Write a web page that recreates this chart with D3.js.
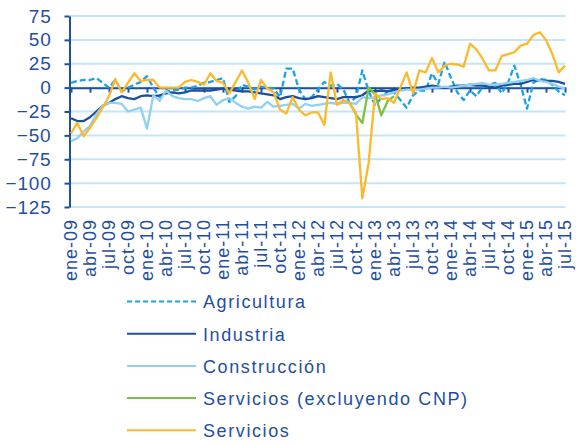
<!DOCTYPE html>
<meta charset="utf-8">
<style>
    * {
        margin: 0px;
    }
    svg {
        display: block;
        background: #fff;
    }
    text {
        font-family: "Liberation Sans", Arial, sans-serif;
        fill: #1f4f9f;
    }
    .grid line {
        stroke: #c2e5f7;
        stroke-width: 2px;
    }
    .axis path, .axis line {
        stroke: #1f4f9f;
        stroke-width: 2px;
    }
    .series {
        fill: none;
        stroke-width: 2.3px;
        stroke-linejoin: round;
    }
</style>
<svg width="579" height="446"></svg>
<script src="https://cdn.jsdelivr.net/npm/d3@7"></script>
<script>
    // etiquetas trimestrales (ene-09 .. jul-15), 79 meses en total
    var tickLabels = ["ene-09", "abr-09", "jul-09", "oct-09", "ene-10", "abr-10", "jul-10", "oct-10",
        "ene-11", "abr-11", "jul-11", "oct-11", "ene-12", "abr-12", "jul-12", "oct-12",
        "ene-13", "abr-13", "jul-13", "oct-13", "ene-14", "abr-14", "jul-14", "oct-14",
        "ene-15", "abr-15", "jul-15"];
    var yTicks = [75, 50, 25, 0, -25, -50, -75, -100, -125];

    var agricultura = [5, 7, 8, 8, 10, 5, 0, 8, -4, 0, 3, 6, 12, 0, -10, -4, -3, -2, 0, 0,
        2, 5, 6, 8, 10, -15, -9, 3, 1, -2, 1, 0, -1, -10, 20, 20, -2, -12, -10, -2,
        6, 2, 4, -2, -16, -10, 18, -4, -18, -11, -4, -5, -13, -21, -8, -3, -3, 15, 4, 27,
        10, -5, -13, -3, -9, 1, 3, 5, -6, 5, 23, 3, -22, 5, 9, 8, 3, -4, -8];
    var industria = [-32, -35, -35, -31, -25, -19, -16, -12, -9, -11, -12, -9, -8, -9, -8, -6, -5, -6, -5, -3,
        -3, -3, -3, -2, -1, -2, -3, -4, -4, -5, -6, -7, -8, -12, -10, -9, -11, -12, -11, -9,
        -10, -11, -12, -10, -10, -10, -8, -3, -4, -3, -4, -2, -2, -1, 0, 0, 1, 2, 1, 0,
        1, 2, 2, 3, 2, 2, 1, 0, 2, 3, 4, 4, 6, 8, 7, 7, 7, 6, 4];
    var construccion = [-56, -53, -46, -40, -28, -19, -16, -16, -17, -25, -23, -21, -43, -8, -14, -3, -9, -11, -12, -12,
        -14, -11, -9, -18, -13, -11, -16, -20, -22, -20, -21, -15, -20, -19, -18, -17, -22, -17, -19, -18,
        -17, -16, -17, -16, -16, -17, -10, -11, -10, -8, -7, -5, -3, -2, -2, -2, -1, 0, 0, 1,
        0, 1, 2, 3, 4, 5, 3, 3, 4, 5, 6, 7, 8, 10, 7, 6, 4, 1, -1];
    // solo oct-12 .. abr-13 (índices 44..51)
    var serviciosSinCNP = [null, null, null, null, null, null, null, null, null, null,
        null, null, null, null, null, null, null, null, null, null,
        null, null, null, null, null, null, null, null, null, null,
        null, null, null, null, null, null, null, null, null, null,
        null, null, null, null, -16, -28, -37, 0, -7, -29, -14, -9, null, null, null, null, null, null, null,
        null, null, null, null, null, null, null, null, null, null, null, null, null, null, null, null, null, null, null];
    var servicios = [-48, -37, -51, -42, -32, -21, -9, 9, -5, 5, 15, 7, 8, 8, 0, 0, 0, 0, 6, 8,
        6, 3, 15, 7, 5, -6, 6, 18, 5, -12, 8, -1, -5, -23, -27, -10, -23, -29, -26, -26,
        -39, 16, -18, -13, -16, -27, -116, -79, -6, -12, -11, -16, 0, 16, -6, 18, 16, 31, 16, 23,
        25, 24, 22, 46, 40, 30, 18, 18, 33, 35, 37, 44, 46, 55, 58, 50, 35, 16, 23];

    var series = [
        {name: "Agricultura", values: agricultura, color: "#1ba2e6", dash: "6,3"},
        {name: "Industria", values: industria, color: "#1c4f9c", dash: null},
        {name: "Construcción", values: construccion, color: "#90d0f2", dash: null},
        {name: "Servicios (excluyendo CNP)", values: serviciosSinCNP, color: "#7cc242", dash: null},
        {name: "Servicios", values: servicios, color: "#fbb92b", dash: null}
    ];

    var svg = d3.select("svg");
    var left = 69.5, right = 565.5;

    var x = d3.scaleLinear().domain([0, servicios.length - 1]).range([71, 565]);
    var y = d3.scaleLinear().domain([-125, 75]).range([207, 16]);

    // rejilla
    svg.append("g")
        .attr("class", "grid")
        .selectAll("line")
        .data(yTicks)
        .enter().append("line")
        .attr("x1", left)
        .attr("x2", right)
        .attr("y1", function(d) { return y(d); })
        .attr("y2", function(d) { return y(d); });

    // eje vertical
    var yAxis = svg.append("g")
        .attr("class", "axis")
        .attr("transform", "translate(" + left + ",0)")
        .call(d3.axisLeft(y).tickValues(yTicks).tickSize(5).tickSizeOuter(0).tickPadding(13));
    yAxis.selectAll("text")
        .style("font-size", "19px")
        .style("letter-spacing", "0.8px")
        .attr("fill", "#1f4f9f");

    // eje horizontal en cero, etiquetas abajo
    var tickIdx = d3.range(0, servicios.length, 3);
    svg.append("g")
        .attr("class", "axis")
        .attr("transform", "translate(0," + y(0) + ")")
        .call(d3.axisBottom(d3.scaleLinear().domain([x.invert(left), x.invert(right)]).range([left, right]))
            .tickValues(tickIdx).tickSize(5).tickSizeOuter(0).tickFormat(""));

    svg.append("g")
        .selectAll("text")
        .data(tickIdx)
        .enter().append("text")
        .attr("transform", function(d) { return "translate(" + x(d) + ",219) rotate(-90)"; })
        .attr("text-anchor", "end")
        .attr("dy", "0.36em")
        .style("font-size", "18px")
        .style("letter-spacing", "1px")
        .text(function(d, k) { return tickLabels[k]; });

    // series
    var line = d3.line()
        .defined(function(d) { return d != null; })
        .x(function(d, i) { return x(i); })
        .y(function(d) { return y(d); });

    svg.append("g")
        .selectAll("path")
        .data(series)
        .enter().append("path")
        .attr("class", "series")
        .attr("stroke", function(d) { return d.color; })
        .attr("stroke-dasharray", function(d) { return d.dash; })
        .attr("d", function(d) { return line(d.values); });

    // leyenda
    var legend = svg.append("g")
        .selectAll("g")
        .data(series)
        .enter().append("g")
        .attr("transform", function(d, i) { return "translate(0," + (301.5 + i * 32.2) + ")"; });

    legend.append("line")
        .attr("x1", 127)
        .attr("x2", 196)
        .attr("stroke", function(d) { return d.color; })
        .attr("stroke-width", 2)
        .attr("stroke-dasharray", function(d) { return d.dash ? "5,3" : null; });

    legend.append("text")
        .attr("x", 203)
        .attr("y", 6.8)
        .style("font-size", "18px")
        .style("letter-spacing", "1.6px")
        .text(function(d) { return d.name; });
</script>
